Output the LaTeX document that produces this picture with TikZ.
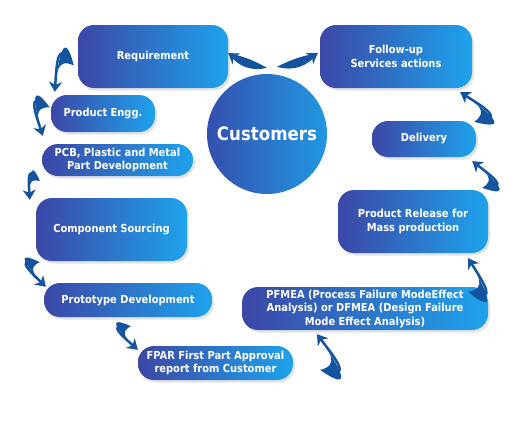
\documentclass[tikz,border=0pt]{standalone}
\usepackage{fontspec}
\newfontfamily\boxfont{DejaVu Sans Condensed}
\usetikzlibrary{shadows, arrows.meta}
\definecolor{boxdark}{HTML}{3C47A6}
\definecolor{boxlight}{HTML}{1EA3EC}
\definecolor{custdark}{HTML}{3550AE}
\definecolor{custlight}{HTML}{2198E2}
\definecolor{swooshblue}{HTML}{14549E}

\tikzset{
  stepbox/.style={
    rounded corners=16pt, left color=boxdark, right color=boxlight,
    text=white, font=\boxfont\bfseries\fontsize{11}{13.5}\selectfont,
    align=center, inner sep=0pt,
    drop shadow={shadow xshift=2pt, shadow yshift=-2.5pt, opacity=0.22}
  },
  custblob/.style={
    circle, minimum size=120pt, left color=custdark, right color=custlight,
    text=white, font=\boxfont\bfseries\fontsize{18.5}{20}\selectfont, inner sep=0pt
  },
  % crescent arrows
  hook outer/.style={out=-130, in=-150, relative, looseness=3},
  hook inner/.style={out=30, in=100, relative, looseness=1.5},
  hook mid/.style={out=-110, in=-148, relative, looseness=2.3},
  flatl outer/.style={bend left=35},
  flatl inner/.style={bend left=8},
  flatl mid/.style={bend left=15},
  flatr outer/.style={bend right=35},
  flatr inner/.style={bend right=8},
  flatr mid/.style={bend right=15},
  swooshtip/.style={swooshblue, line width=2.5pt, shorten <=6pt,
    -{Stealth[length=10pt, width=13pt, inset=3pt]}}
}

\newcommand{\swoosh}[3][hook]{%
  \fill[swooshblue] (#2) to[#1 outer] (#3) to[#1 inner] (#2);
  \draw[swooshtip] (#2) to[#1 mid] (#3);
}

\begin{document}
\begin{tikzpicture}[x=1pt, y=1pt]
  \useasboundingbox (0,0) rectangle (518,-424);

  \node[custblob] (cust) at (267,-134) {Customers};

  \node[stepbox, minimum width=150pt, minimum height=63pt] (req) at (153,-56.5) {Requirement};
  \node[stepbox, minimum width=104pt, minimum height=37pt] (eng) at (103,-113.5) {Product Engg.};
  \node[stepbox, minimum width=151pt, minimum height=32pt] (pcb) at (117.5,-160)
    {PCB, Plastic and Metal\\Part Development};
  \node[stepbox, minimum width=151pt, minimum height=63pt] (comp) at (111.5,-229.5) {Component Sourcing};
  \node[stepbox, minimum width=168pt, minimum height=34pt] (proto) at (128,-300) {Prototype Development};
  \node[stepbox, minimum width=155pt, minimum height=34pt] (fpar) at (215.5,-363)
    {FPAR First Part Approval\\report from Customer};
  \node[stepbox, minimum width=246pt, minimum height=43pt] (pfmea) at (365,-308.5)
    {PFMEA (Process Failure ModeEffect\\Analysis) or DFMEA (Design Failure\\Mode Effect Analysis)};
  \node[stepbox, minimum width=150pt, minimum height=63pt] (rel) at (413,-221.5)
    {Product Release for\\Mass production};
  \node[stepbox, minimum width=104pt, minimum height=36pt] (del) at (424,-139) {Delivery};
  \node[stepbox, minimum width=152pt, minimum height=63pt] (fol) at (396,-56.5)
    {Follow-up\\Services actions};

  % arrow ends
  \coordinate (t1) at ([shift={(-4,-9)}]req.west);
  \coordinate (h1) at ([shift={(4,3)}]eng.north west);
  \coordinate (t2) at ([shift={(-1,6)}]eng.west);
  \coordinate (h2) at ([shift={(1,8)}]pcb.north west);
  \coordinate (t3) at ([shift={(-2,-5)}]pcb.south west);
  \coordinate (h3) at ([shift={(-6,-2)}]comp.north west);
  \coordinate (t4) at ([shift={(4,-1)}]comp.south west);
  \coordinate (h4) at ([shift={(2,-4)}]proto.north west);
  \coordinate (t5) at ([shift={(3,-9)}]proto.south);
  \coordinate (h5) at ([shift={(0,-4)}]fpar.north west);
  \coordinate (t6) at ([shift={(27,-7)}]fpar.east);
  \coordinate (h6) at ([shift={(-48,-4)}]pfmea.south);
  \coordinate (t7) at ([shift={(-20,-5)}]pfmea.north east);
  \coordinate (h7) at ([shift={(-20,-5)}]rel.south east);
  \coordinate (t8) at ([shift={(-6,2)}]rel.north east);
  \coordinate (h8) at ([shift={(-4,-4)}]del.south east);
  \coordinate (t9) at ([shift={(-2,-1)}]del.north east);
  \coordinate (h9) at ([shift={(-12,-4)}]fol.south east);
  \coordinate (t10) at ([shift={(0,6)}]cust.north);
  \coordinate (h10) at ([shift={(0,3.5)}]req.east);
  \coordinate (t11) at ([shift={(10,7)}]cust.north);
  \coordinate (h11) at ([shift={(-2,3.5)}]fol.west);

  \swoosh{t1}{h1}
  \swoosh{t2}{h2}
  \swoosh{t3}{h3}
  \swoosh{t4}{h4}
  \swoosh{t5}{h5}
  \swoosh{t6}{h6}
  \swoosh{t7}{h7}
  \swoosh{t8}{h8}
  \swoosh{t9}{h9}
  \swoosh[flatl]{t10}{h10}
  \swoosh[flatr]{t11}{h11}
\end{tikzpicture}
\end{document}
